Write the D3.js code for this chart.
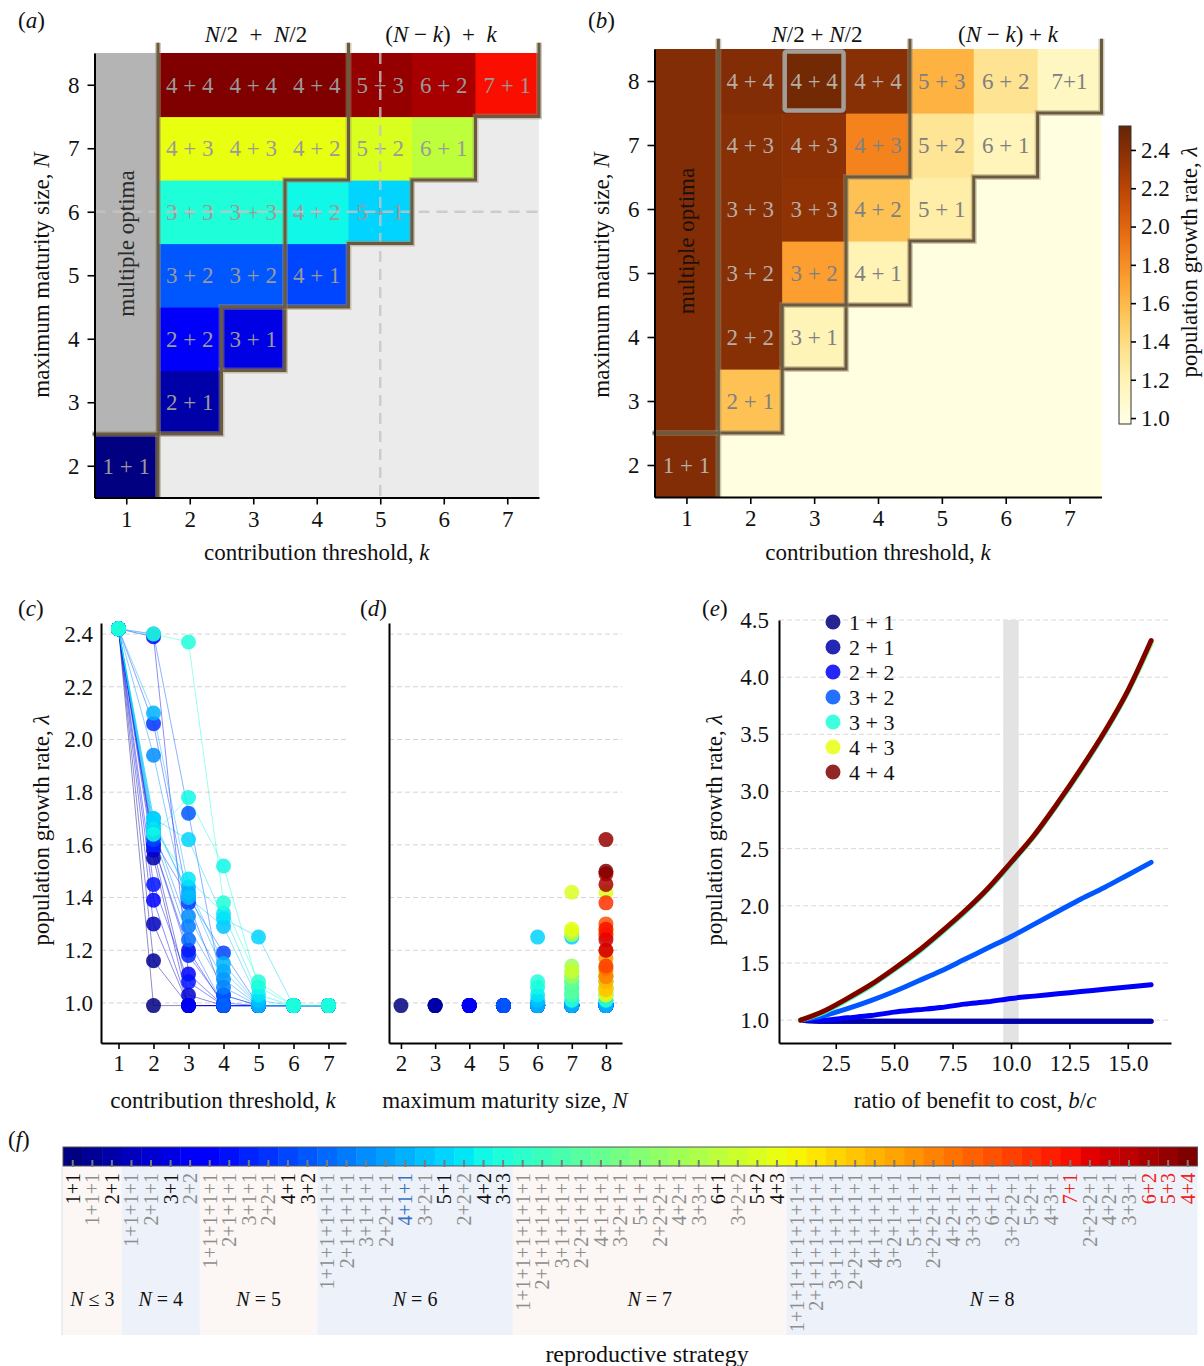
<!DOCTYPE html>
<html><head><meta charset="utf-8">
<script src="https://cdn.jsdelivr.net/npm/d3@7/dist/d3.min.js"></script>
<style>
html,body{margin:0;padding:0;background:#fff;}
text{font-family:"Liberation Serif","Times New Roman",serif;}
</style></head><body>
<svg id="fig" width="1204" height="1366" xmlns="http://www.w3.org/2000/svg"></svg>
<script>
// ======================= DATA =======================
// reproductive strategies in the order of panel (f)
const strategies = [
 "1+1","1+1+1","2+1",
 "1+1+1+1","2+1+1","3+1","2+2",
 "1+1+1+1+1","2+1+1+1","3+1+1","2+2+1","4+1","3+2",
 "1+1+1+1+1+1","2+1+1+1+1","3+1+1+1","2+2+1+1","4+1+1","3+2+1","5+1","2+2+2","4+2","3+3",
 "1+1+1+1+1+1+1","2+1+1+1+1+1","3+1+1+1+1","2+2+1+1+1","4+1+1+1","3+2+1+1","5+1+1","2+2+2+1","4+2+1","3+3+1","6+1","3+2+2","5+2","4+3",
 "1+1+1+1+1+1+1+1","2+1+1+1+1+1+1","3+1+1+1+1+1","2+2+1+1+1+1","4+1+1+1+1","3+2+1+1+1","5+1+1+1","2+2+2+1+1","4+2+1+1","3+3+1+1","6+1+1","3+2+2+1","5+2+1","4+3+1","7+1","2+2+2+1","4+2+1","3+3+1","6+2","5+3","4+4"
];
const groupNames = ["≤ 3","= 4","= 5","= 6","= 7","= 8"];
const groupCounts = [3,4,6,10,14,21];
const cumulativeCountBySize = [1,3,7,13,23,37,58];   // N = 2..8
const sizeValues = [2,3,4,5,6,7,8];
const optimalStrategies = ["1+1","2+1","3+1","4+1","3+2","5+1","4+2","3+3","6+1","5+2","4+3"];
const highlightedStrategies = ["4+1+1"];
const largestStrategies = ["7+1","6+2","5+3","4+4"];

// panels (a) and (b): optimal strategy per (N, k)
const heatN = [2,3,4,4,5,5,5,6,6,6,6,7,7,7,7,7,8,8,8,8,8,8];
const heatK = [1,2,2,3,2,3,4,2,3,4,5,2,3,4,5,6,2,3,4,5,6,7];
const heatLabelA = ["1 + 1","2 + 1","2 + 2","3 + 1","3 + 2","3 + 2","4 + 1","3 + 3","3 + 3","4 + 2","5 + 1","4 + 3","4 + 3","4 + 2","5 + 2","6 + 1","4 + 4","4 + 4","4 + 4","5 + 3","6 + 2","7 + 1"];
const heatLabelB = ["1 + 1","2 + 1","2 + 2","3 + 1","3 + 2","3 + 2","4 + 1","3 + 3","3 + 3","4 + 2","5 + 1","4 + 3","4 + 3","4 + 3","5 + 2","6 + 1","4 + 4","4 + 4","4 + 4","5 + 3","6 + 2","7+1"];
const heatStrategy = ["1+1","2+1","2+2","3+1","3+2","3+2","4+1","3+3","3+3","4+2","5+1","4+3","4+3","4+3","5+2","6+1","4+4","4+4","4+4","5+3","6+2","7+1"];
const heatRegion = ["single","half","half","split","half","half","split","half","half","split","split","half","half","half","split","split","half","half","half","split","split","split"];
const heatLambda = [2.42,1.55,2.40,1.18,2.40,1.72,1.19,2.40,2.37,1.55,1.25,2.40,2.38,1.85,1.33,1.17,2.42,2.47,2.40,1.63,1.34,1.14];
const multipleOptimaLambda = 2.42;
const emptyLambda = 0.99;
const dashedN = 6, dashedK = 5;
const highlightN = 8, highlightK = 3;
const kValues = [1,2,3,4,5,6,7];
const nValues = [2,3,4,5,6,7,8];
const colorbarTicks = [1.0,1.2,1.4,1.6,1.8,2.0,2.2,2.4];

// panel (c): growth rate of strategies with N <= 6 at k = 1..7
const cLambda = [
 [2.42,0.99,0.99,0.99,0.99,0.99,0.99],
 [2.42,1.16,0.99,0.99,0.99,0.99,0.99],
 [2.42,1.55,0.99,0.99,0.99,0.99,0.99],
 [2.42,1.30,0.99,0.99,0.99,0.99,0.99],
 [2.42,1.58,1.03,0.99,0.99,0.99,0.99],
 [2.42,1.60,1.20,0.99,0.99,0.99,0.99],
 [2.42,2.39,1.11,0.99,0.99,0.99,0.99],
 [2.42,1.39,0.99,0.99,0.99,0.99,0.99],
 [2.42,1.45,1.08,0.99,0.99,0.99,0.99],
 [2.42,1.60,1.18,1.00,0.99,0.99,0.99],
 [2.42,2.06,1.38,1.03,0.99,0.99,0.99],
 [2.42,1.62,1.40,1.19,0.99,0.99,0.99],
 [2.42,2.40,1.72,1.03,0.99,0.99,0.99],
 [2.42,1.64,1.24,0.99,0.99,0.99,0.99],
 [2.42,1.66,1.29,1.06,0.99,0.99,0.99],
 [2.42,1.94,1.33,1.09,0.99,0.99,0.99],
 [2.42,1.68,1.42,1.12,0.99,0.99,0.99],
 [2.42,2.10,1.44,1.15,0.99,0.99,0.99],
 [2.42,1.70,1.40,1.29,1.01,0.99,0.99],
 [2.42,1.70,1.62,1.32,1.25,0.99,0.99],
 [2.42,1.66,1.47,1.34,1.03,0.99,0.99],
 [2.42,1.64,1.78,1.52,1.06,0.99,0.99],
 [2.42,2.40,2.37,1.38,1.08,0.99,0.99]
];
// panel (d): growth rate of every strategy at k = 5
const dLambda = [
 0.99,0.99,0.99, 0.99,0.99,0.99,0.99, 0.99,0.99,0.99,0.99,0.99,0.99,
 0.99,0.99,0.99,0.99,0.99,1.01,1.25,1.03,1.06,1.08,
 1.01,1.03,1.05,1.04,1.08,1.10,1.12,1.10,1.14,1.26,1.27,1.12,1.42,1.28,
 1.03,1.05,1.06,1.05,1.08,1.10,1.17,1.10,1.13,1.20,1.30,1.14,1.38,1.26,1.28,1.24,1.20,1.49,1.45,1.62,1.50
];
const lambdaTicks = [1.0,1.2,1.4,1.6,1.8,2.0,2.2,2.4];

// panel (e): growth rate vs benefit/cost ratio
const ratioBC = [1,2,3,4,5,6,7,8,9,10,11,12,13,14,15,16];
const eStrategies = ["1+1","2+1","2+2","3+2","3+3","4+3","4+4"];
const eLambda11 = [1.00,0.99,0.99,0.99,0.99,0.99,0.99,0.99,0.99,0.99,0.99,0.99,0.99,0.99,0.99,0.99];
const eLambda21 = [1.00,0.99,0.99,0.99,0.99,0.99,0.99,0.99,0.99,0.99,0.99,0.99,0.99,0.99,0.99,0.99];
const eLambda22 = [1.00,1.00,1.02,1.04,1.07,1.09,1.11,1.14,1.16,1.19,1.21,1.23,1.25,1.27,1.29,1.31];
const eLambda32 = [1.00,1.04,1.10,1.17,1.25,1.34,1.43,1.53,1.63,1.73,1.84,1.95,2.06,2.16,2.27,2.38];
const eLambda33 = [1.00,1.07,1.18,1.30,1.44,1.59,1.76,1.94,2.14,2.37,2.61,2.89,3.19,3.51,3.87,4.30];
const eLambda43 = [1.00,1.08,1.19,1.31,1.45,1.60,1.77,1.95,2.15,2.38,2.62,2.90,3.20,3.52,3.88,4.31];
const eLambda44 = [1.00,1.08,1.19,1.31,1.45,1.60,1.77,1.95,2.15,2.38,2.62,2.90,3.20,3.52,3.88,4.32];
const eTicksX = [2.5,5.0,7.5,10.0,12.5,15.0];
const eTicksY = [1.0,1.5,2.0,2.5,3.0,3.5,4.0,4.5];
const eBand = [9.67,10.33];

// ======================= HELPERS =======================
const FONT = '"Liberation Serif","Times New Roman",serif';
const svg = d3.select("#fig");
const intFmt = d3.format("d");
const oneFmt = d3.format(".1f");

const jetR = d3.scaleLinear().domain([0,0.35,0.66,0.89,1]).range([0,0,1,1,0.5]).clamp(true);
const jetG = d3.scaleLinear().domain([0,0.125,0.375,0.64,0.91,1]).range([0,0,1,1,0,0]).clamp(true);
const jetB = d3.scaleLinear().domain([0,0.11,0.34,0.65,1]).range([0.5,1,1,0,0]).clamp(true);
const jet = t => d3.rgb(jetR(t)*255, jetG(t)*255, jetB(t)*255).formatHex();
const stratColor = i => jet(i/(strategies.length-1));
const colorOf = name => stratColor(strategies.indexOf(name));

function rich(sel, x, y, parts, size, anchor, rotate, fill) {
  const t = sel.append("text").attr("font-size", size).attr("text-anchor", anchor||"middle")
    .attr("fill", fill||"#111").style("white-space","pre");
  if (rotate) t.attr("transform", `translate(${x},${y}) rotate(${rotate})`);
  else t.attr("x", x).attr("y", y);
  parts.forEach(p => { const s = t.append("tspan").text(p[0]); if (p[1]) s.attr("font-style","italic"); });
  return t;
}
function styleAxis(g, size) {
  g.attr("font-family", FONT).attr("font-size", size||23);
  g.select(".domain").attr("stroke","#000").attr("stroke-width",2);
  g.selectAll(".tick line").attr("stroke","#000").attr("stroke-width",1.6);
  g.selectAll(".tick text").attr("fill","#111");
}

// ======================= PANELS (a) & (b) =======================
function heatPanel(cfg) {
  const xs = d3.scaleLinear().domain([0.5,7.5]).range([cfg.x0,cfg.x1]);
  const ys = d3.scaleLinear().domain([1.5,8.5]).range([cfg.y1,cfg.y0]);
  const g = svg.append("g");
  const cw = xs(1.5)-xs(0.5), ch = ys(1.5)-ys(2.5);
  g.append("rect").attr("x",xs(0.5)).attr("y",ys(8.5)).attr("width",xs(7.5)-xs(0.5)).attr("height",ys(1.5)-ys(8.5))
    .attr("fill",cfg.emptyFill);
  g.append("rect").attr("x",xs(0.5)).attr("y",ys(8.5)).attr("width",cw).attr("height",ys(2.5)-ys(8.5))
    .attr("fill",cfg.multiFill);
  const idx = d3.range(heatN.length);
  g.selectAll("rect.cell").data(idx).join("rect").attr("class","cell")
    .attr("x",i=>xs(heatK[i]-0.5)).attr("y",i=>ys(heatN[i]+0.5))
    .attr("width",cw+0.6).attr("height",ch+0.6).attr("fill",i=>cfg.cellFill(i));
  if (cfg.highlight) {
    g.append("rect").attr("x",xs(highlightK-0.5)+2.5).attr("y",ys(highlightN+0.5)+2.5)
      .attr("width",cw-5).attr("height",ch-5).attr("rx",2)
      .attr("fill","none").attr("stroke","#a39d98").attr("stroke-width",4.5);
  }
  g.selectAll("text.cl").data(idx).join("text").attr("class","cl")
    .attr("x",i=>xs(heatK[i])).attr("y",i=>ys(heatN[i])).attr("dy","0.35em")
    .attr("text-anchor","middle").attr("font-size",23).style("white-space","pre")
    .attr("fill",i=>cfg.labelFill(i)).text(i=>cfg.labels[i]);
  rich(g, xs(1), ys(5.5), [["multiple optima",0]], 23, "middle", -90, cfg.multiText).attr("dy","0.35em");
  if (cfg.dashed) {
    g.append("line").attr("x1",xs(0.5)).attr("x2",xs(7.5)).attr("y1",ys(dashedN)).attr("y2",ys(dashedN))
      .attr("stroke","#c4c4c4").attr("stroke-opacity",0.8).attr("stroke-width",2.5).attr("stroke-dasharray","11,7");
    g.append("line").attr("x1",xs(dashedK)).attr("x2",xs(dashedK)).attr("y1",ys(8.5)).attr("y2",ys(1.5))
      .attr("stroke","#c4c4c4").attr("stroke-opacity",0.8).attr("stroke-width",2.5).attr("stroke-dasharray","11,7");
  }
  // region boundaries derived from the cells
  const rowMax = {}, halfMax = {};
  idx.forEach(i => {
    rowMax[heatN[i]] = Math.max(rowMax[heatN[i]]||0, heatK[i]);
    if (heatRegion[i] === "half") halfMax[heatN[i]] = Math.max(halfMax[heatN[i]]||0, heatK[i]);
  });
  const top = 8.66;
  const outer = [[rowMax[8]+0.5, top]];
  for (let n = 8; n >= 3; n--) { outer.push([rowMax[n]+0.5, n-0.5]); outer.push([rowMax[n-1]+0.5, n-0.5]); }
  const inner = [[halfMax[8]+0.5, top]];
  for (let n = 8; n >= 4; n--) { inner.push([halfMax[n]+0.5, n-0.5]); inner.push([halfMax[n-1]+0.5, n-0.5]); }
  const leftV = [[1.5, top],[1.5, 1.5]];
  const leftH = [[0.47, 2.5],[1.5, 2.5]];
  const line = d3.line().x(d=>xs(d[0])).y(d=>ys(d[1]));
  [outer, inner, leftV, leftH].forEach(p => {
    g.append("path").attr("d",line(p)).attr("fill","none").attr("stroke","#9c8c70").attr("stroke-opacity",0.45)
      .attr("stroke-width",6).attr("stroke-linejoin","miter");
    g.append("path").attr("d",line(p)).attr("fill","none").attr("stroke","#6a5a3e")
      .attr("stroke-width",3).attr("stroke-linejoin","miter");
  });
  // axes
  const ax = g.append("g").attr("transform",`translate(0,${cfg.y1})`)
    .call(d3.axisBottom(xs).tickValues(kValues).tickFormat(intFmt).tickSize(7).tickPadding(6).tickSizeOuter(0));
  styleAxis(ax);
  const ay = g.append("g").attr("transform",`translate(${cfg.x0},0)`)
    .call(d3.axisLeft(ys).tickValues(nValues).tickFormat(intFmt).tickSize(7).tickPadding(8).tickSizeOuter(0));
  styleAxis(ay);
  rich(g, (cfg.x0+cfg.x1)/2, 560, [["contribution threshold, ",0],["k",1]], 23);
  rich(g, cfg.ytitleX, 275, [["maximum maturity size, ",0],["N",1]], 23, "middle", -90);
  rich(g, cfg.hdr1X, 42, cfg.hdr1, 23);
  rich(g, cfg.hdr2X, 42, cfg.hdr2, 23);
  rich(g, cfg.tagX, 28, [["(",0],[cfg.tag,1],[")",0]], 23, "start");
  return {xs, ys, g};
}

heatPanel({
  x0:94.5, x1:539, y0:53, y1:497.5,
  emptyFill:"#ebebeb", multiFill:"#b4b4b4", multiText:"#2a2a2a",
  cellFill: i => colorOf(heatStrategy[i]), labelFill: () => "#9a9a9a",
  labels: heatLabelA, dashed:true, highlight:false,
  ytitleX:49, tag:"a", tagX:18,
  hdr1X:256, hdr1:[["N",1],["/2  +  ",0],["N",1],["/2",0]],
  hdr2X:441, hdr2:[["(",0],["N",1],[" − ",0],["k",1],[")  +  ",0],["k",1]]
});

const bDomain = [0.969, 2.525];
const bColor = v => d3.interpolateYlOrBr(Math.max(0, Math.min(1, (v-bDomain[0])/(bDomain[1]-bDomain[0]))));
heatPanel({
  x0:654.5, x1:1101.5, y0:49, y1:497,
  emptyFill:bColor(emptyLambda), multiFill:bColor(multipleOptimaLambda), multiText:"#1e1008",
  cellFill: i => bColor(heatLambda[i]), labelFill: i => heatLambda[i] > 2 ? "#b8aea6" : "#808080",
  labels: heatLabelB, dashed:false, highlight:true,
  ytitleX:609, tag:"b", tagX:588,
  hdr1X:817, hdr1:[["N",1],["/2 + ",0],["N",1],["/2",0]],
  hdr2X:1008, hdr2:[["(",0],["N",1],[" − ",0],["k",1],[") + ",0],["k",1]]
});

// colorbar for (b)
{
  const cbY = d3.scaleLinear().domain(bDomain).range([424,126]);
  const defs = svg.append("defs");
  const grad = defs.append("linearGradient").attr("id","ylorbr").attr("x1",0).attr("y1",1).attr("x2",0).attr("y2",0);
  d3.range(0,1.0001,0.05).forEach(t => grad.append("stop").attr("offset",t).attr("stop-color",d3.interpolateYlOrBr(t)));
  const g = svg.append("g");
  g.append("rect").attr("x",1119).attr("y",cbY(bDomain[1])).attr("width",12).attr("height",cbY(bDomain[0])-cbY(bDomain[1]))
    .attr("fill","url(#ylorbr)").attr("stroke","#333").attr("stroke-width",1);
  const a = g.append("g").attr("transform","translate(1131,0)")
    .call(d3.axisRight(cbY).tickValues(colorbarTicks).tickFormat(oneFmt).tickSize(5).tickPadding(5).tickSizeOuter(0));
  styleAxis(a);
  a.select(".domain").remove();
  rich(g, 1197, 262, [["population growth rate, ",0],["λ",1]], 23, "middle", -90);
}

// ======================= PANEL (c) =======================
const yL = d3.scaleLinear().domain([0.848,2.442]).range([1043,623]);
{
  const xs = d3.scaleLinear().domain([0.5,7.5]).range([101,346]);
  const g = svg.append("g");
  g.selectAll("line.grid").data(lambdaTicks).join("line").attr("class","grid")
    .attr("x1",101).attr("x2",346).attr("y1",d=>yL(d)).attr("y2",d=>yL(d))
    .attr("stroke","#d4d4d4").attr("stroke-width",1).attr("stroke-dasharray","5,3");
  const line = d3.line().x((d,j)=>xs(kValues[j])).y(d=>yL(d));
  g.selectAll("path.s").data(cLambda).join("path").attr("class","s")
    .attr("d",d=>line(d)).attr("fill","none").attr("stroke",(d,i)=>stratColor(i))
    .attr("stroke-opacity",0.45).attr("stroke-width",1);
  const pts = [];
  cLambda.forEach((row,i) => row.forEach((v,j) => pts.push({i, k:kValues[j], v})));
  g.selectAll("circle").data(pts).join("circle")
    .attr("cx",d=>xs(d.k)).attr("cy",d=>yL(d.v)).attr("r",7.5)
    .attr("fill",d=>stratColor(d.i)).attr("fill-opacity",0.85);
  const ax = g.append("g").attr("transform","translate(0,1043)")
    .call(d3.axisBottom(xs).tickValues(kValues).tickFormat(intFmt).tickSize(6).tickPadding(6).tickSizeOuter(0));
  styleAxis(ax);
  const ay = g.append("g").attr("transform","translate(101,0)")
    .call(d3.axisLeft(yL).tickValues(lambdaTicks).tickFormat(oneFmt).tickSize(0).tickPadding(8).tickSizeOuter(0));
  styleAxis(ay);
  rich(g, 223, 1108, [["contribution threshold, ",0],["k",1]], 23);
  rich(g, 49, 830, [["population growth rate, ",0],["λ",1]], 23, "middle", -90);
  rich(g, 18, 616, [["(",0],["c",1],[")",0]], 23, "start");
}

// ======================= PANEL (d) =======================
{
  const xs = d3.scaleLinear().domain([1.65,8.47]).range([389,622]);
  const g = svg.append("g");
  g.selectAll("line.grid").data(lambdaTicks).join("line").attr("class","grid")
    .attr("x1",389).attr("x2",622).attr("y1",d=>yL(d)).attr("y2",d=>yL(d))
    .attr("stroke","#d4d4d4").attr("stroke-width",1).attr("stroke-dasharray","5,3");
  const pts = [];
  sizeValues.forEach((n,c) => { for (let i = 0; i < cumulativeCountBySize[c]; i++) pts.push({n, i, v:dLambda[i]}); });
  g.selectAll("circle").data(pts).join("circle")
    .attr("cx",d=>xs(d.n)).attr("cy",d=>yL(d.v)).attr("r",7.5)
    .attr("fill",d=>stratColor(d.i)).attr("fill-opacity",0.85);
  const ax = g.append("g").attr("transform","translate(0,1043)")
    .call(d3.axisBottom(xs).tickValues(nValues).tickFormat(intFmt).tickSize(6).tickPadding(6).tickSizeOuter(0));
  styleAxis(ax);
  const ay = g.append("g").attr("transform","translate(389,0)")
    .call(d3.axisLeft(yL).tickValues([]).tickSizeOuter(0));
  styleAxis(ay);
  rich(g, 505, 1108, [["maximum maturity size, ",0],["N",1]], 23);
  rich(g, 360, 616, [["(",0],["d",1],[")",0]], 23, "start");
}

// ======================= PANEL (e) =======================
{
  const xs = d3.scaleLinear().domain([0.07,16.85]).range([779,1171]);
  const ys = d3.scaleLinear().domain([0.80,4.5]).range([1043,620]);
  const g = svg.append("g");
  g.selectAll("line.grid").data(eTicksY).join("line").attr("class","grid")
    .attr("x1",779).attr("x2",1171).attr("y1",d=>ys(d)).attr("y2",d=>ys(d))
    .attr("stroke","#d8d8d8").attr("stroke-width",1).attr("stroke-dasharray","5,3");
  g.append("rect").attr("x",xs(eBand[0])).attr("y",ys(4.5)).attr("width",xs(eBand[1])-xs(eBand[0]))
    .attr("height",ys(0.80)-ys(4.5)).attr("fill","#e3e3e3");
  const series = [eLambda11,eLambda21,eLambda22,eLambda32,eLambda33,eLambda43,eLambda44];
  const line = d3.line().x((d,j)=>xs(ratioBC[j])).y(d=>ys(d)).curve(d3.curveMonotoneX);
  g.selectAll("path.s").data(series).join("path").attr("class","s")
    .attr("d",d=>line(d)).attr("fill","none").attr("stroke",(d,i)=>colorOf(eStrategies[i]))
    .attr("stroke-width",5).attr("stroke-linecap","round");
  const ax = g.append("g").attr("transform","translate(0,1043)")
    .call(d3.axisBottom(xs).tickValues(eTicksX).tickFormat(oneFmt).tickSize(6).tickPadding(6).tickSizeOuter(0));
  styleAxis(ax);
  const ay = g.append("g").attr("transform","translate(779,0)")
    .call(d3.axisLeft(ys).tickValues(eTicksY).tickFormat(oneFmt).tickSize(0).tickPadding(10).tickSizeOuter(0));
  styleAxis(ay);
  const leg = g.append("g");
  const ly = d3.scalePoint().domain(eStrategies).range([622,772]);
  leg.selectAll("circle").data(eStrategies).join("circle")
    .attr("cx",833).attr("cy",d=>ly(d)).attr("r",7.5).attr("fill",d=>colorOf(d)).attr("fill-opacity",0.85);
  leg.selectAll("text").data(eStrategies).join("text")
    .attr("x",849).attr("y",d=>ly(d)).attr("dy","0.35em").attr("font-size",22).attr("fill","#111")
    .text(d=>d.replace(/\+/g," + "));
  rich(g, 975, 1108, [["ratio of benefit to cost, ",0],["b",1],["/",0],["c",1]], 23);
  rich(g, 722, 830, [["population growth rate, ",0],["λ",1]], 23, "middle", -90);
  rich(g, 702, 616, [["(",0],["e",1],[")",0]], 23, "start");
}

// ======================= PANEL (f) =======================
{
  const g = svg.append("g");
  const fx = d3.scaleBand().domain(d3.range(strategies.length)).range([63,1197.5]).paddingInner(0);
  const bw = fx.bandwidth();
  let start = 0;
  groupCounts.forEach((cnt,gi) => {
    const x0 = fx(start), x1 = fx(start+cnt-1)+bw;
    g.append("rect").attr("x",x0).attr("y",1167).attr("width",x1-x0).attr("height",168)
      .attr("fill", gi % 2 === 0 ? "#fcf7f5" : "#edf2fa");
    rich(g, (x0+x1)/2, 1306, [["N",1],[" "+groupNames[gi],0]], 20);
    start += cnt;
  });
  g.append("line").attr("x1",62).attr("x2",62).attr("y1",1167).attr("y2",1335).attr("stroke","#ddd");
  g.selectAll("rect.strip").data(strategies).join("rect").attr("class","strip")
    .attr("x",(d,i)=>fx(i)).attr("y",1147).attr("width",bw+0.4).attr("height",19)
    .attr("fill",(d,i)=>stratColor(i));
  g.append("rect").attr("x",63).attr("y",1147).attr("width",1197.5-63).attr("height",19)
    .attr("fill","none").attr("stroke","#555").attr("stroke-width",1);
  g.selectAll("line.tk").data(strategies).join("line").attr("class","tk")
    .attr("x1",(d,i)=>fx(i)+bw/2).attr("x2",(d,i)=>fx(i)+bw/2).attr("y1",1160).attr("y2",1167)
    .attr("stroke","#7a7a7a").attr("stroke-width",2);
  const labColor = d => largestStrategies.includes(d) ? "#ee2222"
    : highlightedStrategies.includes(d) ? "#3b6fc4"
    : optimalStrategies.includes(d) ? "#111" : "#8e8e8e";
  g.selectAll("text.lab").data(strategies).join("text").attr("class","lab")
    .attr("transform",(d,i)=>`translate(${fx(i)+bw/2},1173) rotate(-90)`)
    .attr("dy","0.35em").attr("text-anchor","end").attr("font-size",20)
    .attr("fill",d=>labColor(d)).text(d=>d);
  rich(g, 647, 1362, [["reproductive strategy",0]], 24);
  rich(g, 8, 1147, [["(",0],["f",1],[")",0]], 23, "start");
}
</script>
</body></html>
